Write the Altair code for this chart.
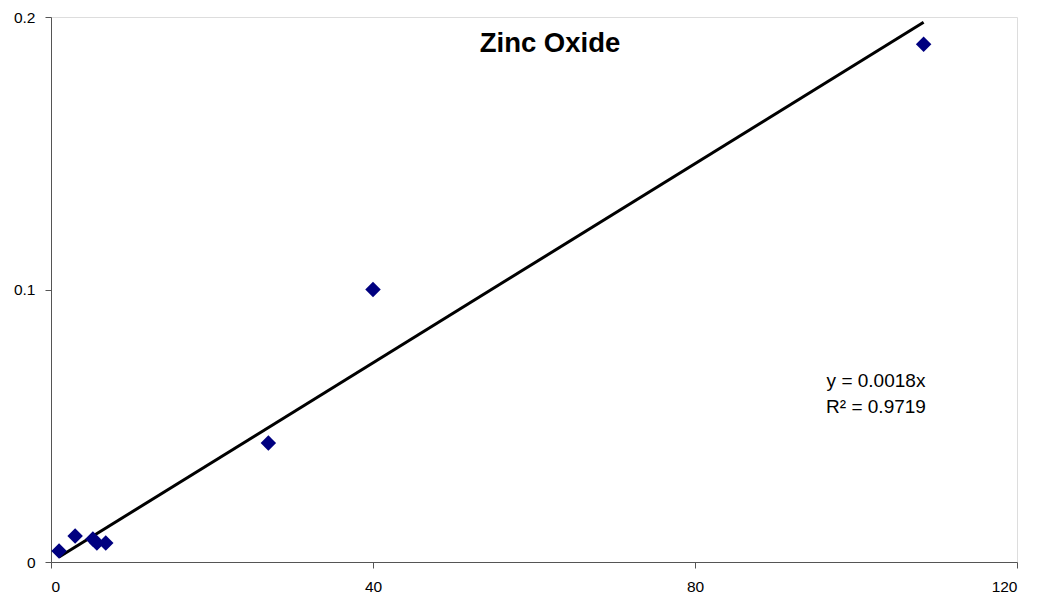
import altair as alt
import numpy as np
import pandas as pd

x_vals = [1.0, 3.0, 5.2, 5.7, 6.8, 27.0, 40.0, 108.4]
y_vals = [0.004, 0.0095, 0.0084, 0.007, 0.007, 0.0437, 0.100, 0.190]
x_ticks = [0, 40, 80, 120]
y_ticks = [0, 0.1, 0.2]

df = pd.DataFrame({"x": x_vals, "y": y_vals})
xa = np.array(x_vals)
ya = np.array(y_vals)
slope = float((xa * ya).sum() / (xa * xa).sum())
line_df = pd.DataFrame({"x": [xa.min(), xa.max()]})
line_df["y"] = slope * line_df["x"]

W, H = 966, 545
FONT = "Liberation Sans"

xs = alt.Scale(domain=[0, 120], nice=False, zero=False)
ys = alt.Scale(domain=[0, 0.2], nice=False, zero=False)

xaxis = alt.Axis(values=x_ticks, grid=False, title=None, labelFont=FONT, labelFontSize=15.5,
                 labelColor="black", domainColor="#555", tickColor="#555", tickSize=6,
                 labelPadding=11, format="~g")
yaxis = alt.Axis(values=y_ticks, grid=False, title=None, labelFont=FONT, labelFontSize=15.5,
                 labelColor="black", domainColor="#555", tickColor="#555", tickSize=6,
                 labelPadding=10, format="~g")

pts = alt.Chart(df).mark_point(shape="diamond", filled=True, size=240, color="#000080", opacity=1).encode(
    x=alt.X("x:Q", scale=xs, axis=xaxis),
    y=alt.Y("y:Q", scale=ys, axis=yaxis),
)

line = alt.Chart(line_df).mark_line(color="black", strokeWidth=3).encode(
    x=alt.X("x:Q", scale=xs),
    y=alt.Y("y:Q", scale=ys),
)

title = alt.Chart(pd.DataFrame({"t": ["Zinc Oxide"]})).mark_text(
    font=FONT, fontSize=27.5, fontWeight="bold", color="black", align="center", baseline="alphabetic"
).encode(x=alt.value(499), y=alt.value(35), text="t:N")

eq = alt.Chart(pd.DataFrame({"t": ["y = 0.0018x", "R² = 0.9719"], "dy": [370, 396]})).mark_text(
    font=FONT, fontSize=19, color="black", align="center", baseline="alphabetic"
).encode(x=alt.value(825), y=alt.Y("dy:Q", scale=None), text="t:N")

chart = alt.layer(line, pts, title, eq).properties(
    width=W, height=H, autosize=alt.AutoSizeParams(type="none"),
    padding={"left": 51, "top": 17, "right": 20, "bottom": 41},
).configure_view(stroke=None).configure(background="white")

chart.save("out.html", embed_options={"renderer": "svg", "actions": False})
